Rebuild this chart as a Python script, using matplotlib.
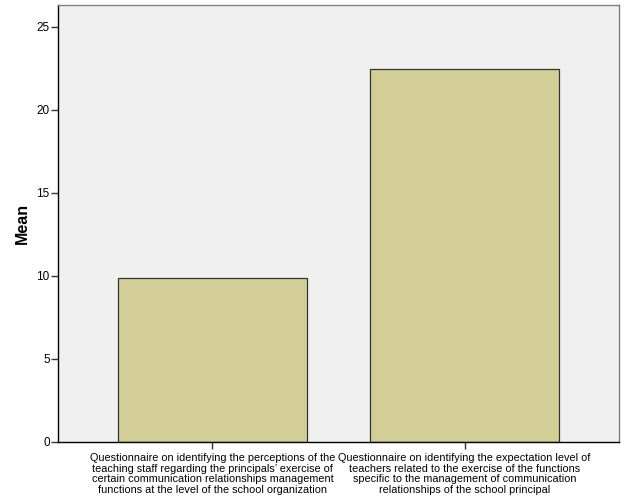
import matplotlib

matplotlib.use("Agg")
import matplotlib.pyplot as plt

categories = [
    "Questionnaire on identifying the perceptions of the\n"
    "teaching staff regarding the principals\u2019 exercise of\n"
    "certain communication relationships management\n"
    "functions at the level of the school organization",
    "Questionnaire on identifying the expectation level of\n"
    "teachers related to the exercise of the functions\n"
    "specific to the management of communication\n"
    "relationships of the school principal",
]
means = [9.88, 22.43]
y_ticks = [0, 5, 10, 15, 20, 25]

plt.rcParams["font.family"] = ["Liberation Sans", "DejaVu Sans"]

fig = plt.figure(figsize=(6.26, 5.01), dpi=100)
ax = fig.add_axes([58 / 626, 59 / 501, 561 / 626, 437 / 501])
ax.set_facecolor("#f0f0f0")

positions = list(range(len(categories)))
ax.bar(positions, means, width=0.75, color="#d3ce97", edgecolor="#333333", linewidth=0.9)

ax.set_xlim(-0.613, 1.613)
ax.set_ylim(0, 26.3)
ax.set_yticks(y_ticks)
ax.set_xticks(positions)
ax.set_xticklabels(categories, fontsize=7.8, linespacing=1.08)
ax.tick_params(axis="y", labelsize=8.5, length=5, width=1, pad=1, color="#333333")
ax.tick_params(axis="x", length=5, width=1, pad=3, color="#333333")
ax.set_ylabel("Mean", fontsize=11.5, fontweight="bold", labelpad=5)

for side in ["left", "bottom"]:
    ax.spines[side].set_color("black")
    ax.spines[side].set_linewidth(1)
for side in ["top", "right"]:
    ax.spines[side].set_color("#808080")
    ax.spines[side].set_linewidth(1)

fig.savefig("out.png", dpi=100)
plt.close(fig)
